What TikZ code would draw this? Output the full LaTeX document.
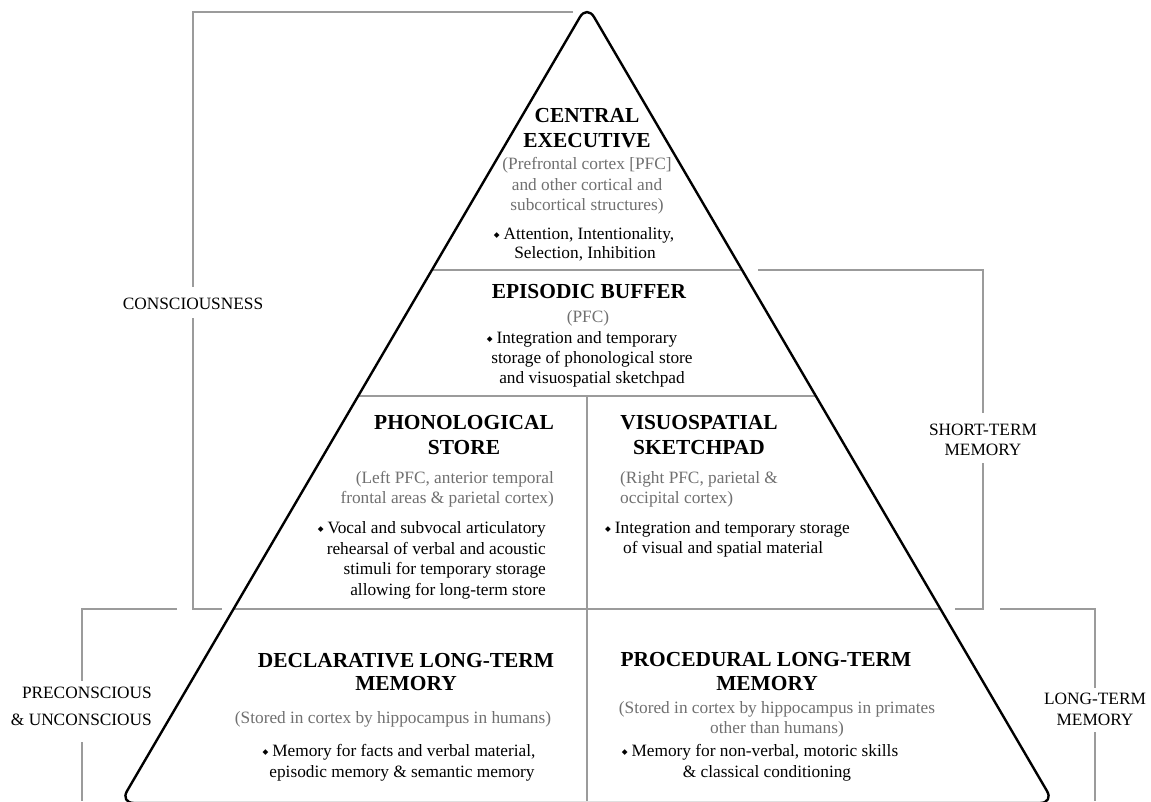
\documentclass[tikz,border=0pt]{standalone}
\usepackage{fontspec}
\setmainfont{Liberation Serif}
\newfontfamily\dejavu{DejaVu Sans}
\definecolor{txtgray}{RGB}{112,112,112}
\definecolor{lngray}{RGB}{155,155,155}
\newcommand{\bul}{{\dejavu\fontsize{7.5}{7.5}\selectfont\raisebox{1.5pt}{◆}}\hspace{4pt}}
\begin{document}
\begin{tikzpicture}[x=1pt,y=-1pt,
  title/.style={font=\fontsize{21.4}{24}\selectfont\bfseries, inner sep=0pt, anchor=base},
  sub/.style={font=\fontsize{17.3}{20}\selectfont, text=txtgray, inner sep=0pt, anchor=base},
  item/.style={font=\fontsize{17.3}{20}\selectfont, inner sep=0pt, anchor=base},
  side/.style={font=\fontsize{17.3}{20}\selectfont, inner sep=0pt, anchor=base},
  gline/.style={draw=lngray, line width=1.2pt},
  tri/.style={draw=black, line width=2.4pt, rounded corners=14pt, line join=round}]
\useasboundingbox (0,0) rectangle (1151,801);
\fill[white] (0,0) rectangle (1151,801);

% ---- gray lines inside triangle
\draw[gline] (432,270) -- (742,270);
\draw[gline] (358,396) -- (816,396);
\draw[gline] (234,609) -- (940,609);
\draw[gline] (587,396) -- (587,801);

% ---- consciousness bracket
\draw[gline] (573,12) -- (193,12) -- (193,287);
\draw[gline] (193,318) -- (193,609) -- (222,609);
% ---- short-term bracket
\draw[gline] (758,270) -- (983,270) -- (983,413);
\draw[gline] (983,463) -- (983,609) -- (955,609);
% ---- preconscious bracket
\draw[gline] (177,609) -- (82,609) -- (82,681);
\draw[gline] (82,742) -- (82,801);
% ---- long-term bracket
\draw[gline] (1000,609) -- (1095,609) -- (1095,688);
\draw[gline] (1095,732) -- (1095,801);

% ---- triangle
\draw[tri] (120,803) -- (587,5) -- (1054,803) -- cycle;

% ---- side labels
\node[side] (cons) at (193,309) {CONSCIOUSNESS};
\node[side] (stm1) at (983,435) {SHORT-TERM};
\node[side] (stm2) at (983,455) {MEMORY};
\node[side, anchor=base east] (pre1) at (152,698) {PRECONSCIOUS};
\node[side, anchor=base east] (pre2) at (152,725) {\& UNCONSCIOUS};
\node[side] (ltm1) at (1095,704) {LONG-TERM};
\node[side] (ltm2) at (1095,725) {MEMORY};

% ---- central executive
\node[title] (ce1) at (587,122) {CENTRAL};
\node[title] (ce2) at (587,147) {EXECUTIVE};
\node[sub] (ce3) at (587,169) {(Prefrontal cortex [PFC]};
\node[sub] (ce4) at (587,190) {and other cortical and};
\node[sub] (ce5) at (587,210) {subcortical structures)};
\node[item] (ce6) at (584,239) {\bul Attention, Intentionality,};
\node[item] (ce7) at (585,258) {Selection, Inhibition};

% ---- episodic buffer
\node[title] (eb1) at (589,298) {EPISODIC BUFFER};
\node[sub] (eb2) at (588,322) {(PFC)};
\node[item] (eb3) at (582,343) {\bul Integration and temporary};
\node[item] (eb4) at (592,363) {storage of phonological store};
\node[item] (eb5) at (592,383) {and visuospatial sketchpad};

% ---- phonological store
\node[title] (ph1) at (464,429) {PHONOLOGICAL};
\node[title] (ph2) at (464,454) {STORE};
\node[sub, anchor=base east] (ph3) at (554,483) {(Left PFC, anterior temporal};
\node[sub, anchor=base east] (ph4) at (554,503) {frontal areas \& parietal cortex)};
\node[item, anchor=base east] (ph5) at (546,533) {\bul Vocal and subvocal articulatory};
\node[item, anchor=base east] (ph6) at (546,554) {rehearsal of verbal and acoustic};
\node[item, anchor=base east] (ph7) at (546,574) {stimuli for temporary storage};
\node[item, anchor=base east] (ph8) at (546,595) {allowing for long-term store};

% ---- visuospatial sketchpad
\node[title] (vs1) at (699,429) {VISUOSPATIAL};
\node[title] (vs2) at (699,454) {SKETCHPAD};
\node[sub, anchor=base west] (vs3) at (620,483) {(Right PFC, parietal \&};
\node[sub, anchor=base west] (vs4) at (620,503) {occipital cortex)};
\node[item, anchor=base west] (vs5) at (605,533) {\bul Integration and temporary storage};
\node[item, anchor=base west] (vs6) at (623,553) {of visual and spatial material};

% ---- declarative long-term memory
\node[title] (dl1) at (406,667) {DECLARATIVE LONG-TERM};
\node[title] (dl2) at (406,690) {MEMORY};
\node[sub] (dl3) at (393,723) {(Stored in cortex by hippocampus in humans)};
\node[item] (dl4) at (399,756) {\bul Memory for facts and verbal material,};
\node[item] (dl5) at (402,777) {episodic memory \& semantic memory};

% ---- procedural long-term memory
\node[title] (pl1) at (766,666) {PROCEDURAL LONG-TERM};
\node[title] (pl2) at (767,690) {MEMORY};
\node[sub] (pl3) at (777,713) {(Stored in cortex by hippocampus in primates};
\node[sub] (pl4) at (777,733) {other than humans)};
\node[item] (pl5) at (760,756) {\bul Memory for non-verbal, motoric skills};
\node[item] (pl6) at (767,777) {\& classical conditioning};
\end{tikzpicture}
\end{document}
